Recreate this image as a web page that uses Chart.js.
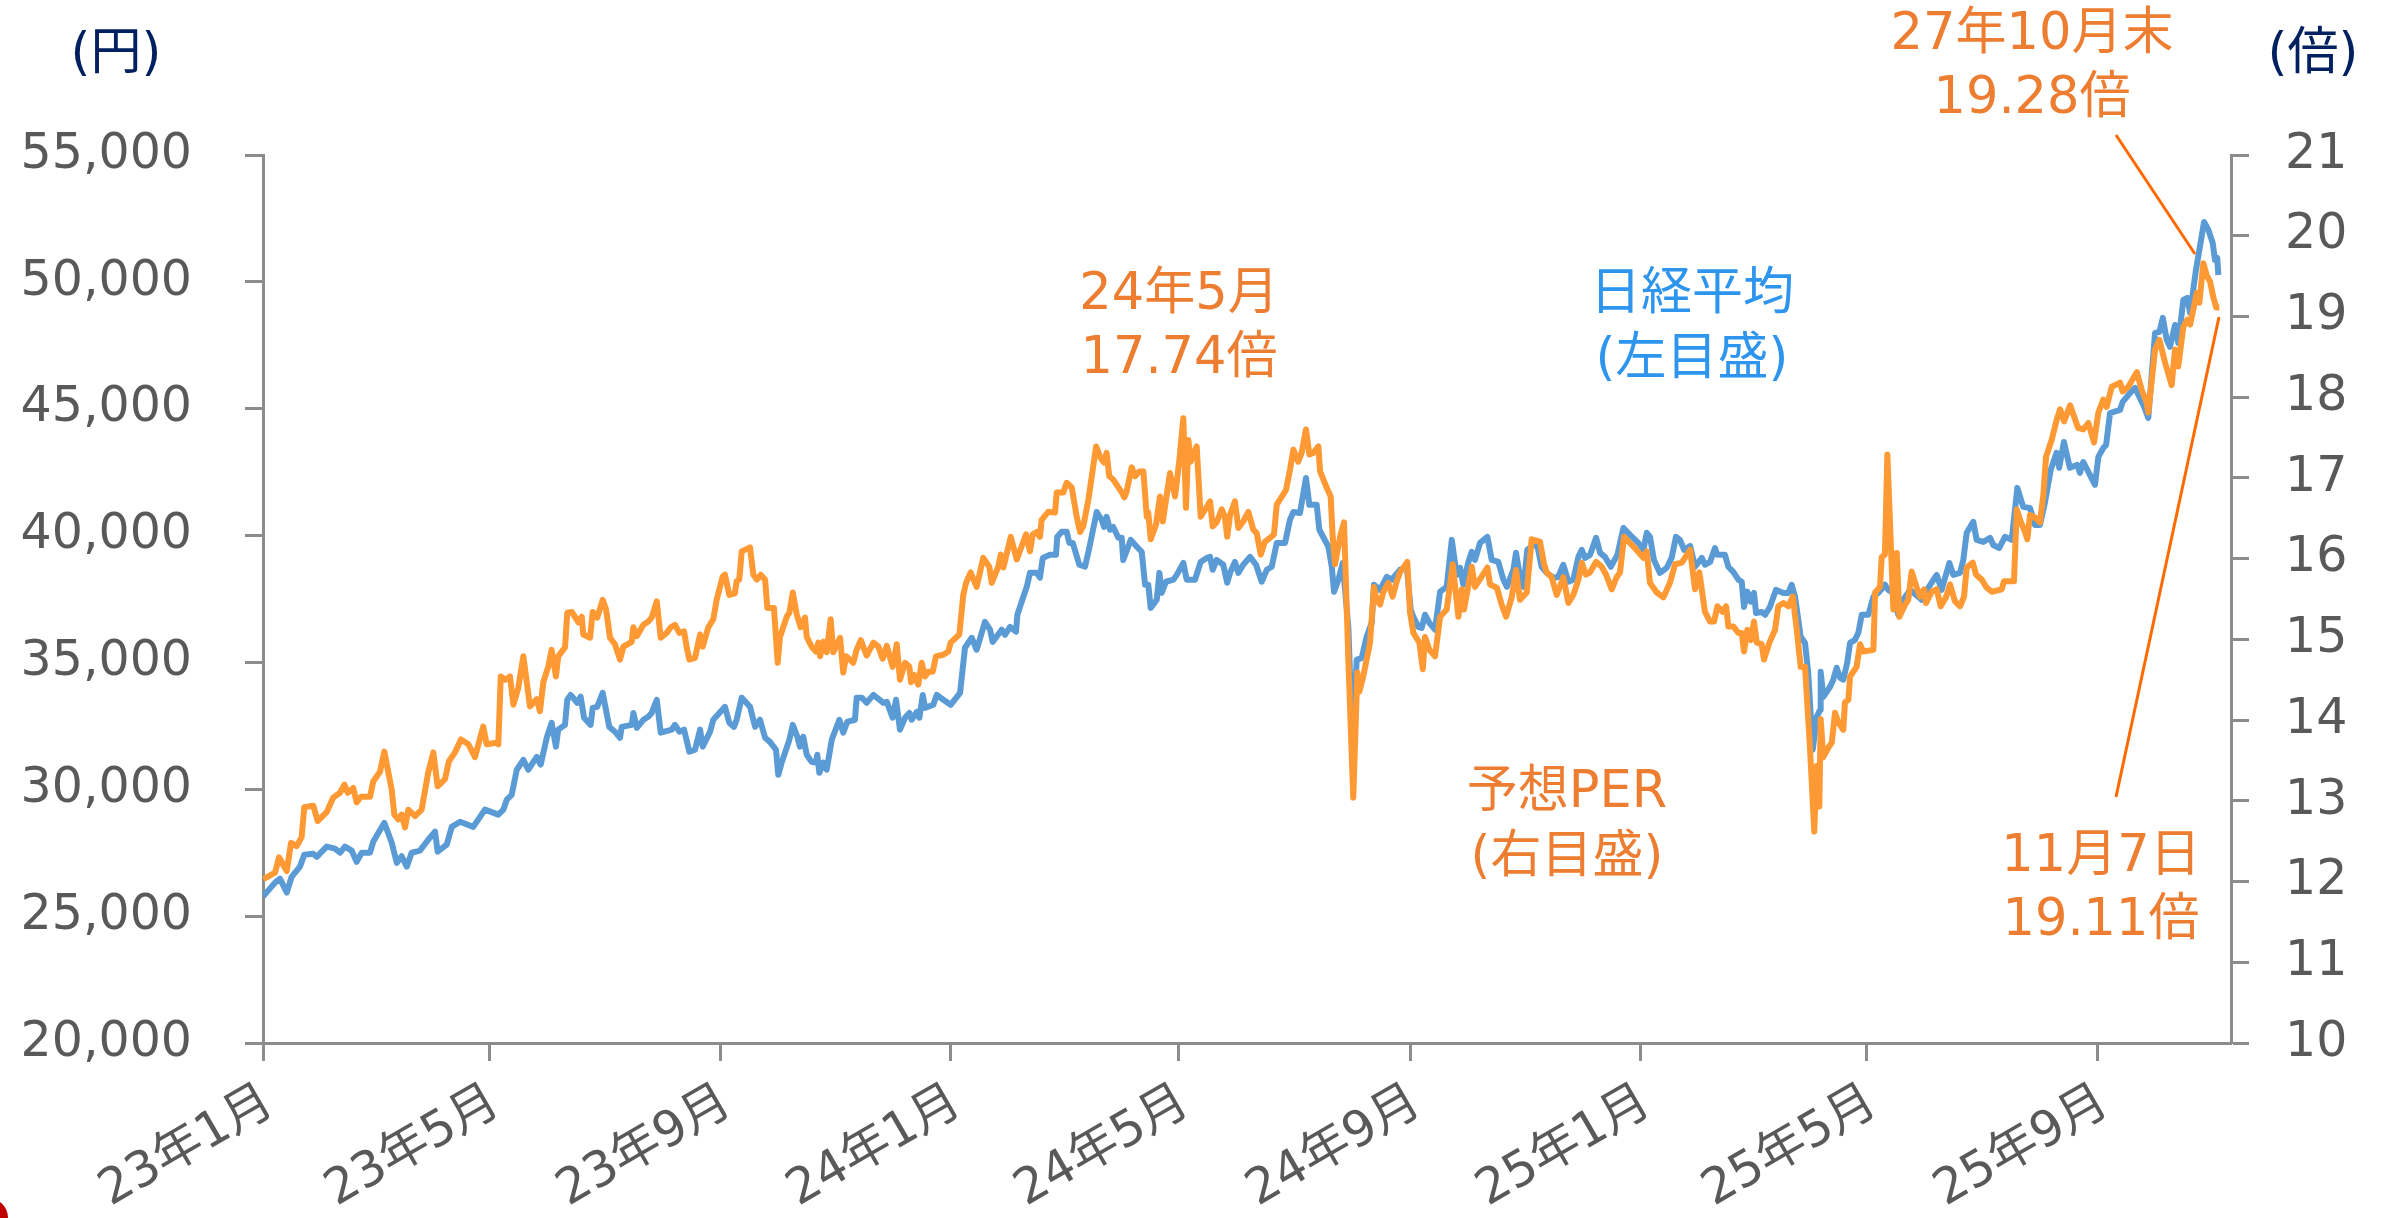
<!DOCTYPE html>
<html>
<head>
<meta charset="utf-8">
<script src="https://cdn.jsdelivr.net/npm/chart.js@4.4.1/dist/chart.umd.min.js"></script>
<style>
  html, body { margin: 0; padding: 0; background: #fff; }
  #wrap { width: 2382px; height: 1218px; position: relative; }
</style>
</head>
<body>
<div id="wrap"><canvas id="chart" width="2382" height="1218"></canvas></div>
<script>
// x軸: 2023年1月1日からの経過日数
const monthTicks = [0, 120, 243, 365, 486, 609, 731, 851, 974];
const monthLabels = ['23年1月', '23年5月', '23年9月', '24年1月', '24年5月', '24年9月', '25年1月', '25年5月', '25年9月'];
const xMax = 1044.6;

const yenTicks = [20000, 25000, 30000, 35000, 40000, 45000, 50000, 55000];
const perTicks = [10, 11, 12, 13, 14, 15, 16, 17, 18, 19, 20, 21];

// 日経平均(左目盛)
const nikkeiDays = [
  0, 6.4, 9.0, 12.6, 15.2, 19.6, 21.9, 26.7, 28.5, 33.8, 38.2, 40.9, 43.5, 47.1, 49.7, 52.4, 56.8, 58.5, 64.4, 68.3,
  71.0, 73.6, 76.3, 78.9, 83.3, 87.7, 91.3, 92.7, 97.5, 100.2, 104.6, 111.6, 117.8, 124.9, 127.6, 129.4, 132.0, 134.7, 138.2, 140.8,
  145.3, 147.4, 150.6, 153.2, 155.5, 156.7, 160.3, 161.5, 163.3, 166.8, 168.6, 170.4, 173.9, 175.0, 177.4, 180.3, 183.8, 186.8, 189.5, 190.4,
  195.7, 196.6, 198.4, 201.9, 204.5, 206.3, 209.0, 211.1, 216.9, 218.7, 221.0, 223.5, 226.3, 229.3, 232.0, 233.4, 237.3, 239.0, 245.2, 247.5,
  250.0, 251.4, 254.1, 258.5, 261.2, 263.8, 266.5, 269.1, 272.3, 273.5, 275.3, 279.4, 281.2, 283.6, 285.0, 286.8, 288.6, 291.2, 293.5, 294.2,
  295.3, 297.4, 299.2, 301.9, 305.9, 308.0, 310.1, 314.2, 315.1, 317.8, 320.4, 324.0, 329.3, 331.1, 334.2, 336.0, 338.1, 340.8, 343.1, 344.3,
  347.0, 348.4, 350.2, 351.4, 355.8, 357.6, 361.1, 365.0, 370.0, 372.6, 376.2, 378.8, 383.2, 385.9, 387.3, 392.1, 393.9, 396.5, 399.7, 400.4,
  403.6, 405.4, 407.1, 410.7, 412.4, 413.9, 417.7, 420.9, 421.6, 424.0, 426.6, 428.0, 429.8, 433.3, 436.3, 438.6, 442.5, 445.2, 446.4, 447.8,
  449.6, 451.3, 454.0, 455.8, 456.6, 460.6, 463.8, 466.4, 468.2, 469.9, 471.2, 474.4, 475.8, 477.0, 479.3, 483.2, 485.0, 488.5, 490.3, 494.7,
  497.7, 500.9, 502.7, 504.1, 506.2, 509.7, 511.8, 513.3, 515.9, 517.7, 520.3, 523.9, 527.1, 530.1, 532.8, 535.4, 538.1, 542.5, 545.1, 546.9,
  550.4, 553.6, 555.4, 559.3, 560.7, 565.5, 567.3, 568.5, 570.8, 573.1, 576.1, 578.4, 580.5, 583.2, 585.8, 588.5, 589.7, 592.9, 596.5, 599.1,
  603.5, 607.1, 609.2, 610.6, 613.2, 615.0, 616.8, 619.1, 622.1, 624.8, 628.3, 631.0, 633.6, 635.4, 637.1, 639.8, 641.6, 643.3, 646.0, 649.9,
  652.2, 655.7, 658.4, 660.2, 663.7, 665.1, 667.2, 669.0, 671.1, 673.4, 676.1, 678.7, 681.4, 684.9, 687.5, 690.2, 692.9, 695.5, 698.2, 700.0,
  701.7, 704.4, 707.6, 709.7, 712.3, 715.4, 718.9, 722.1, 725.6, 730.0, 732.7, 734.5, 736.2, 738.3, 741.5, 745.1, 747.7, 750.0, 752.1, 754.3,
  757.5, 760.1, 763.7, 765.4, 768.1, 770.7, 771.9, 776.0, 777.8, 780.4, 783.1, 784.9, 786.1, 787.9, 789.7, 791.4, 792.5, 795.5, 797.3, 799.9,
  803.1, 807.0, 809.6, 811.4, 813.2, 816.2, 818.5, 820.2, 822.6, 824.7, 826.5, 826.8, 828.2, 831.8, 833.5, 835.3, 837.1, 838.8, 840.9, 842.4,
  845.0, 846.8, 848.6, 852.1, 854.8, 857.4, 861.0, 862.7, 865.4, 868.0, 870.7, 874.2, 878.6, 880.4, 883.9, 888.4, 891.0, 895.1, 897.2, 900.8,
  902.5, 904.3, 907.8, 909.6, 913.1, 916.7, 918.4, 921.6, 924.6, 928.2, 931.2, 934.3, 937.9, 940.5, 943.2, 945.8, 948.9, 952.0, 953.4, 955.9,
  959.1, 963.0, 964.4, 966.2, 969.7, 972.4, 974.2, 976.8, 978.3, 980.4, 985.7, 987.1, 991.0, 993.7, 996.7, 998.1, 1000.7, 1004.3, 1006.6, 1008.4,
  1010.5, 1012.2, 1014.9, 1016.6, 1019.3, 1021.4, 1022.9, 1026.0, 1027.8, 1030.3, 1032.6, 1034.9, 1036.1, 1037.3, 1037.9
];
const nikkei = [
  25770, 26320, 26480, 25930, 26550, 26950, 27420, 27460, 27340, 27740, 27660, 27500, 27740, 27580, 27140, 27500, 27500, 27930, 28680, 27900,
  27100, 27360, 26950, 27500, 27580, 28010, 28330, 27540, 27820, 28520, 28720, 28520, 29200, 29000, 29200, 29590, 29780, 30770, 31160, 30770,
  31280, 30970, 32030, 32620, 31680, 32350, 32540, 33530, 33720, 33410, 33650, 32820, 32540, 33210, 33250, 33800, 32460, 32270, 32030, 32460,
  32540, 33010, 32420, 32740, 32860, 33010, 33530, 32230, 32350, 32540, 32270, 32350, 31480, 31560, 32350, 31680, 32270, 32740, 33250, 32620,
  32460, 32740, 33610, 33250, 32460, 32740, 32030, 31870, 31560, 30570, 31050, 31950, 32540, 32070, 31680, 32070, 31360, 31080, 31050, 31360,
  30650, 31050, 30770, 31950, 32740, 32230, 32660, 32740, 33610, 33610, 33410, 33720, 33410, 33450, 32820, 33530, 32350, 32820, 33010, 32740,
  33050, 32820, 33720, 33210, 33330, 33720, 33530, 33330, 33800, 35580, 35970, 35500, 36600, 36290, 35810, 36290, 36090, 36400, 36210, 36880,
  37590, 37980, 38530, 38530, 38340, 39120, 39240, 39240, 39950, 40150, 40150, 39710, 39710, 38850, 38770, 39510, 40930, 40620, 40340, 40740,
  40230, 40340, 39910, 39910, 39040, 39830, 39560, 39360, 38060, 38060, 37150, 37470, 38530, 37740, 38180, 38260, 38450, 38920, 38260, 38260,
  38960, 39120, 39160, 38650, 39040, 38850, 38140, 38530, 38960, 38530, 38850, 39160, 38850, 38180, 38650, 38770, 39710, 39710, 40620, 40930,
  40890, 42270, 41210, 41210, 40230, 39560, 38770, 37790, 38260, 38920, 36400, 31460, 35100, 35180, 36010, 36560, 38060, 37860, 38370, 38260,
  38650, 38770, 37070, 36800, 36400, 36360, 36880, 36560, 36290, 37790, 37980, 39830, 38450, 38730, 38060, 38960, 39360, 39040, 39710, 39950,
  39040, 38960, 38260, 37980, 38650, 39320, 38370, 37980, 39440, 39560, 39710, 38770, 38530, 38340, 38370, 38850, 38180, 38260, 39160, 39440,
  39120, 39240, 39910, 39320, 39160, 38770, 39240, 40300, 40030, 39710, 39440, 40110, 39950, 39040, 38530, 38730, 39120, 39950, 39830, 39440,
  39590, 38770, 39120, 38850, 38960, 39510, 39240, 39240, 38770, 38570, 38260, 38180, 37190, 37790, 37390, 37740, 36950, 36990, 36880, 37190,
  37860, 37740, 37740, 38060, 37590, 36010, 35770, 34590, 31560, 32860, 33130, 34630, 33650, 34040, 34320, 34790, 34400, 34320, 34990, 35770,
  35890, 36170, 36880, 36880, 37590, 37740, 38060, 37860, 37740, 36880, 37470, 37860, 37590, 37470, 37940, 38450, 37860, 38920, 38450, 38530,
  39040, 40110, 40540, 39830, 39750, 39910, 39630, 39510, 39950, 39830, 41880, 41130, 41090, 40420, 40420, 41290, 42590, 43260, 42670, 43690,
  42670, 42790, 42470, 42900, 42390, 42000, 43100, 43450, 43570, 44830, 44950, 45270, 45620, 45820, 45350, 45150, 44640, 47990, 48030, 48580,
  47710, 47440, 48300, 47590, 49290, 49370, 48770, 50470, 51260, 52360, 52050, 51530, 50860, 50940, 50270
];

// 予想PER(右目盛)
const perDays = [
  0.2, 6.4, 8.5, 12.6, 14.9, 17.9, 20.5, 21.9, 26.7, 29.0, 33.8, 37.3, 40.9, 43.2, 45.0, 47.9, 49.7, 52.0, 56.8, 58.5,
  62.1, 64.4, 68.3, 69.7, 71.8, 73.6, 75.4, 77.1, 80.7, 84.2, 87.7, 90.4, 92.7, 96.6, 98.7, 101.9, 105.1, 109.0, 112.5, 116.9,
  118.7, 124.0, 124.9, 126.2, 128.5, 131.1, 132.9, 135.5, 138.2, 141.7, 145.3, 147.0, 148.8, 151.4, 153.2, 155.5, 156.7, 160.3, 161.5, 163.9,
  167.4, 169.2, 170.0, 173.6, 175.0, 177.4, 180.3, 182.1, 184.2, 186.8, 189.5, 191.3, 195.7, 196.6, 198.4, 201.9, 204.5, 206.3, 209.0, 211.1,
  214.3, 216.4, 218.7, 221.0, 223.5, 224.9, 226.3, 229.3, 232.0, 233.4, 236.4, 239.0, 240.8, 244.0, 245.2, 247.5, 250.5, 251.4, 252.8, 254.1,
  258.5, 260.3, 262.1, 264.2, 266.5, 267.7, 271.2, 273.2, 274.4, 278.0, 279.4, 281.2, 283.3, 285.4, 287.7, 288.6, 291.2, 293.5, 294.8, 295.7,
  297.4, 299.2, 301.3, 302.7, 306.3, 308.0, 309.5, 313.3, 315.1, 317.3, 320.4, 324.0, 326.6, 328.9, 331.1, 334.2, 336.4, 338.1, 340.8, 343.1,
  344.0, 345.6, 347.8, 349.6, 351.4, 353.2, 355.5, 357.2, 361.1, 363.8, 365.0, 369.6, 371.7, 373.2, 375.6, 378.8, 382.3, 385.5, 386.8, 390.3,
  391.6, 393.0, 396.9, 400.1, 405.0, 407.1, 408.6, 410.7, 412.4, 413.3, 416.8, 420.4, 421.3, 424.8, 426.6, 429.3, 431.9, 433.7, 435.4, 438.1,
  442.2, 444.3, 446.4, 447.8, 449.2, 451.3, 455.8, 457.2, 458.4, 461.1, 462.9, 465.1, 467.3, 469.1, 469.9, 471.2, 474.0, 476.1, 477.6, 481.4,
  484.1, 486.4, 488.5, 489.9, 491.2, 492.4, 495.6, 497.7, 500.9, 502.7, 504.1, 506.2, 508.9, 510.6, 511.8, 513.3, 515.9, 517.7, 520.3, 523.0,
  525.6, 527.4, 529.6, 531.8, 533.6, 536.6, 538.1, 539.8, 543.0, 545.1, 546.9, 549.5, 551.3, 553.6, 555.4, 557.5, 560.2, 561.1, 564.6, 566.7,
  567.8, 569.0, 572.0, 573.8, 576.1, 578.7, 580.9, 581.9, 584.0, 587.6, 589.7, 591.1, 592.9, 594.7, 597.3, 599.6, 601.8, 603.5, 607.4, 608.8,
  610.6, 613.8, 615.6, 616.8, 619.1, 622.1, 624.8, 628.3, 631.5, 634.5, 636.3, 637.5, 641.6, 643.3, 649.9, 651.3, 654.9, 657.5, 659.8, 662.8,
  665.1, 667.2, 670.8, 673.4, 677.8, 680.0, 681.4, 684.0, 686.7, 690.2, 692.9, 695.5, 698.2, 700.0, 702.2, 704.4, 707.6, 710.6, 712.9, 715.9,
  718.5, 720.3, 722.4, 727.4, 732.7, 734.5, 736.2, 739.8, 743.3, 746.8, 749.5, 753.1, 757.5, 760.1, 762.4, 765.4, 768.1, 770.2, 772.0, 774.8,
  776.6, 777.8, 780.4, 783.1, 784.9, 786.1, 787.9, 789.7, 791.4, 792.9, 795.5, 796.7, 799.6, 802.6, 804.3, 807.0, 809.6, 812.0, 814.1, 816.2,
  818.5, 821.1, 823.4, 824.7, 826.1, 826.8, 828.2, 830.9, 832.7, 834.4, 836.2, 838.8, 839.7, 841.5, 842.4, 845.9, 847.7, 849.4, 854.8, 855.7,
  858.3, 859.2, 860.9, 862.2, 865.4, 867.2, 868.6, 871.6, 873.3, 875.1, 877.8, 879.5, 881.7, 882.7, 885.7, 888.4, 890.5, 893.3, 895.5, 898.1,
  900.8, 902.9, 904.3, 907.5, 909.3, 912.3, 914.9, 917.6, 922.9, 924.1, 929.4, 930.9, 932.6, 935.3, 936.5, 937.9, 940.6, 943.2, 945.0, 946.4,
  949.4, 952.1, 953.9, 956.0, 959.2, 963.4, 966.2, 968.9, 971.9, 974.2, 976.8, 978.6, 981.3, 985.7, 987.1, 990.1, 994.6, 997.2, 999.9, 1000.7,
  1004.3, 1006.6, 1009.6, 1013.1, 1014.9, 1016.6, 1019.3, 1021.4, 1022.9, 1026.4, 1027.8, 1029.9, 1031.7, 1033.5, 1035.2, 1036.7, 1038.4
];
const per = [
  12.03, 12.11, 12.30, 12.13, 12.48, 12.44, 12.55, 12.92, 12.94, 12.75, 12.86, 13.04, 13.10, 13.20, 13.10, 13.16, 12.98, 13.05, 13.05, 13.24,
  13.36, 13.61, 13.14, 12.83, 12.77, 12.83, 12.67, 12.89, 12.81, 12.89, 13.35, 13.60, 13.18, 13.27, 13.49, 13.60, 13.76, 13.70, 13.54, 13.92,
  13.70, 13.72, 13.70, 14.54, 14.50, 14.54, 14.19, 14.40, 14.79, 14.17, 14.26, 14.11, 14.47, 14.66, 14.87, 14.54, 14.79, 14.90, 15.33, 15.34,
  15.21, 15.28, 15.06, 15.02, 15.34, 15.27, 15.49, 15.37, 15.02, 14.94, 14.75, 14.91, 14.97, 15.15, 15.04, 15.18, 15.22, 15.27, 15.47, 15.02,
  15.08, 15.15, 15.18, 15.08, 15.10, 14.90, 14.75, 14.77, 15.06, 14.91, 15.15, 15.25, 15.49, 15.78, 15.80, 15.55, 15.57, 15.72, 15.74, 16.09,
  16.14, 15.80, 15.74, 15.80, 15.74, 15.39, 15.39, 14.71, 15.03, 15.28, 15.33, 15.58, 15.31, 15.15, 15.27, 15.03, 14.91, 14.85, 14.96, 14.79,
  14.97, 14.84, 15.25, 14.84, 15.02, 14.59, 14.79, 14.71, 14.87, 14.99, 14.80, 14.96, 14.91, 14.76, 14.92, 14.66, 14.94, 14.50, 14.71, 14.66,
  14.47, 14.56, 14.44, 14.71, 14.54, 14.60, 14.60, 14.79, 14.81, 14.85, 14.96, 15.06, 15.55, 15.70, 15.83, 15.65, 16.01, 15.90, 15.70, 15.90,
  16.05, 15.89, 16.27, 15.99, 16.30, 16.09, 16.30, 16.33, 16.27, 16.48, 16.58, 16.57, 16.82, 16.82, 16.94, 16.88, 16.52, 16.33, 16.40, 16.73,
  17.39, 17.26, 17.19, 17.31, 17.02, 16.98, 16.82, 16.76, 16.83, 17.13, 17.02, 17.08, 17.08, 16.52, 16.57, 16.24, 16.42, 16.77, 16.46, 17.06,
  16.77, 17.22, 17.74, 16.63, 17.47, 17.20, 17.39, 16.52, 16.64, 16.71, 16.40, 16.45, 16.61, 16.51, 16.27, 16.54, 16.71, 16.38, 16.46, 16.58,
  16.36, 16.32, 16.05, 16.21, 16.24, 16.30, 16.67, 16.73, 16.85, 17.10, 17.35, 17.20, 17.31, 17.60, 17.29, 17.31, 17.39, 17.08, 16.88, 16.77,
  16.27, 15.93, 16.30, 16.45, 14.75, 13.04, 14.59, 14.35, 14.54, 14.96, 15.65, 15.49, 15.43, 15.59, 15.70, 15.53, 15.72, 15.83, 15.96, 15.34,
  15.08, 14.96, 14.63, 15.03, 14.87, 14.79, 15.28, 15.37, 15.93, 15.28, 15.62, 15.37, 15.90, 15.65, 15.89, 15.68, 15.64, 15.43, 15.28, 15.52,
  15.86, 15.49, 15.58, 16.24, 16.21, 15.93, 15.83, 15.77, 15.55, 15.77, 15.45, 15.55, 15.74, 15.95, 15.80, 15.83, 15.96, 15.90, 15.80, 15.62,
  15.77, 15.83, 16.27, 16.15, 16.01, 16.09, 15.70, 15.58, 15.52, 15.70, 15.93, 15.95, 16.11, 15.62, 15.83, 15.34, 15.22, 15.22, 15.41, 15.34,
  15.41, 15.16, 15.16, 15.08, 15.08, 14.85, 15.12, 14.99, 15.22, 14.96, 14.94, 14.75, 14.96, 15.12, 15.41, 15.45, 15.41, 15.53, 15.12, 14.66,
  14.66, 13.67, 12.62, 13.43, 12.93, 14.01, 13.54, 13.66, 13.72, 14.09, 13.97, 13.88, 14.22, 14.25, 14.54, 14.66, 14.94, 14.85, 14.87, 15.58,
  15.65, 16.02, 16.05, 17.29, 15.37, 16.07, 15.28, 15.43, 15.49, 15.84, 15.64, 15.53, 15.62, 15.45, 15.59, 15.62, 15.41, 15.52, 15.68, 15.47,
  15.41, 15.53, 15.89, 15.95, 15.80, 15.74, 15.64, 15.59, 15.62, 15.72, 15.72, 16.61, 16.48, 16.33, 16.24, 16.54, 16.51, 16.45, 16.79, 17.26,
  17.47, 17.72, 17.85, 17.70, 17.90, 17.62, 17.60, 17.68, 17.44, 17.81, 17.97, 17.88, 18.13, 18.18, 18.07, 18.13, 18.31, 18.09, 17.93, 17.81,
  18.59, 18.71, 18.43, 18.15, 18.59, 18.38, 18.87, 18.96, 18.90, 19.29, 19.17, 19.66, 19.51, 19.43, 19.24, 19.11, 19.11
];

const FONT = "'DejaVu Sans', 'Noto Sans CJK JP', sans-serif";
const axisGray = '#8c8c8c';
const tickText = '#595959';
const orangeText = '#ED7D31';
const blueText = '#2E95EE';
const navy = '#002060';

// 注記テキスト (画面上の位置)
const notes = [
  { text: '(円)', x: 116, y: 56, color: navy },
  { text: '(倍)', x: 2313, y: 56, color: navy },
  { text: '27年10月末', x: 2032, y: 36, color: orangeText },
  { text: '19.28倍', x: 2032, y: 100, color: orangeText },
  { text: '24年5月', x: 1179, y: 296, color: orangeText },
  { text: '17.74倍', x: 1179, y: 360, color: orangeText },
  { text: '日経平均', x: 1692, y: 296, color: blueText },
  { text: '(左目盛)', x: 1692, y: 361, color: blueText },
  { text: '予想PER', x: 1567, y: 794, color: orangeText },
  { text: '(右目盛)', x: 1567, y: 859, color: orangeText },
  { text: '11月7日', x: 2101, y: 858, color: orangeText },
  { text: '19.11倍', x: 2101, y: 922, color: orangeText }
];
const leaders = [
  [2116, 135, 2195, 254],
  [2116, 797, 2219, 317]
];

const notePlugin = {
  id: 'notes',
  afterDraw(chart) {
    const ctx = chart.ctx;
    ctx.save();
    ctx.strokeStyle = '#FF6A00';
    ctx.lineWidth = 3;
    leaders.forEach(l => {
      ctx.beginPath();
      ctx.moveTo(l[0], l[1]);
      ctx.lineTo(l[2], l[3]);
      ctx.stroke();
    });
    ctx.font = '51px ' + FONT;
    ctx.textAlign = 'center';
    ctx.textBaseline = 'middle';
    notes.forEach(n => {
      ctx.fillStyle = n.color;
      ctx.fillText(n.text, n.x, n.y);
    });
    // 左下の赤い印
    ctx.fillStyle = '#C00000';
    ctx.beginPath();
    ctx.arc(-12, 1218, 20, 0, Math.PI * 2);
    ctx.fill();
    ctx.restore();
  }
};

const toPoints = (xs, ys) => xs.map((d, i) => ({ x: d, y: ys[i] }));

new Chart(document.getElementById('chart'), {
  type: 'line',
  data: {
    datasets: [
      {
        label: '予想PER',
        data: toPoints(perDays, per),
        yAxisID: 'y2',
        borderColor: '#FF9933',
        borderWidth: 6,
        pointRadius: 0,
        tension: 0,
        borderJoinStyle: 'round',
        order: 0
      },
      {
        label: '日経平均',
        data: toPoints(nikkeiDays, nikkei),
        yAxisID: 'y',
        borderColor: '#5B9BD5',
        borderWidth: 6,
        pointRadius: 0,
        tension: 0,
        borderJoinStyle: 'round',
        order: 1
      }
    ]
  },
  options: {
    responsive: false,
    animation: false,
    devicePixelRatio: 1,
    layout: { padding: { top: 155, left: 0, right: 0, bottom: 0 } },
    plugins: { legend: { display: false }, tooltip: { enabled: false } },
    scales: {
      x: {
        type: 'linear',
        min: 0,
        max: xMax,
        afterBuildTicks: s => { s.ticks = monthTicks.map(v => ({ value: v })); },
        afterFit: s => { s.height = 175; },
        ticks: {
          autoSkip: false,
          minRotation: 30,
          maxRotation: 30,
          padding: 13,
          labelOffset: 7,
          color: tickText,
          font: { family: FONT, size: 49 },
          callback: (v, i) => monthLabels[i]
        },
        grid: { drawOnChartArea: false, drawTicks: true, tickLength: 18, tickColor: axisGray, tickWidth: 3 },
        border: { color: axisGray, width: 3 }
      },
      y: {
        position: 'left',
        min: 20000,
        max: 55000,
        afterBuildTicks: s => { s.ticks = yenTicks.map(v => ({ value: v })); },
        afterFit: s => { s.width = 263; },
        ticks: {
          padding: 53,
          color: tickText,
          font: { family: FONT, size: 49 },
          callback: v => v.toLocaleString('en-US')
        },
        grid: { drawOnChartArea: false, drawTicks: true, tickLength: 18, tickColor: axisGray, tickWidth: 3 },
        border: { color: axisGray, width: 3 }
      },
      y2: {
        position: 'right',
        min: 10,
        max: 21,
        afterBuildTicks: s => { s.ticks = perTicks.map(v => ({ value: v })); },
        afterFit: s => { s.width = 151; },
        ticks: {
          padding: 36,
          color: tickText,
          font: { family: FONT, size: 49 }
        },
        grid: { drawOnChartArea: false, drawTicks: true, tickLength: 18, tickColor: axisGray, tickWidth: 3 },
        border: { color: axisGray, width: 3 }
      }
    }
  },
  plugins: [notePlugin]
});
</script>
</body>
</html>
